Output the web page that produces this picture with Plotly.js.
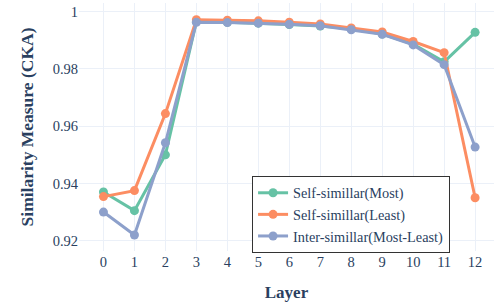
<!DOCTYPE html>
<html><head><meta charset="utf-8">
<script src="https://cdn.plot.ly/plotly-3.0.1.min.js"></script>
<style>html,body{margin:0;padding:0;background:#fff}#c{width:494px;height:306px}</style>
</head><body><div id="c"></div>
<script>
const layers = [0,1,2,3,4,5,6,7,8,9,10,11,12];
const selfMost = [0.9370,0.9305,0.9500,0.9965,0.9963,0.9960,0.9955,0.9950,0.9940,0.9922,0.9887,0.9825,0.9928];
const selfLeast = [0.9354,0.9375,0.9644,0.9972,0.9970,0.9968,0.9963,0.9957,0.9943,0.9929,0.9896,0.9857,0.9350];
const interSim = [0.9300,0.9220,0.9542,0.9963,0.9962,0.9960,0.9956,0.9951,0.9937,0.9921,0.9884,0.9815,0.9527];
const names = ["Self-simillar(Most)","Self-simillar(Least)","Inter-simillar(Most-Least)"];
const colors = ["#66c2a5","#fc8d62","#8da0cb"];
const series = [selfMost, selfLeast, interSim];
const traces = series.map((y,i)=>({x:layers,y:y,name:names[i],type:'scatter',mode:'lines+markers',
  line:{color:colors[i],width:3},marker:{color:colors[i],size:9}}));
const font = "Liberation Serif, Times New Roman, serif";
Plotly.newPlot('c', traces, {
  width:494,height:306,
  margin:{l:79,r:0,t:3,b:55},
  paper_bgcolor:'#fff',plot_bgcolor:'#fff',
  font:{family:font,color:'#2a3f5f',size:14.5},
  xaxis:{range:[-0.79,12.61],tickvals:layers,gridcolor:'#EBF0F8',zeroline:false,showline:false,ticks:'',
    automargin:false,title:{text:'<b>Layer</b>',font:{size:17},standoff:17},tickfont:{size:14.5}},
  yaxis:{range:[0.9164,1.00304],tickvals:[0.92,0.94,0.96,0.98,1],ticktext:['0.92','0.94','0.96','0.98','1'],
    gridcolor:'#EBF0F8',zeroline:false,showline:false,ticks:'',automargin:false,
    title:{text:'<b>Similarity Measure (CKA)</b>',font:{size:17.5},standoff:14},tickfont:{size:14.5}},
  legend:{x:0.417,y:-0.008,xanchor:'left',yanchor:'bottom',bgcolor:'#fff',bordercolor:'#333',borderwidth:1,
    font:{size:14.3},tracegroupgap:0},
  showlegend:true
},{displayModeBar:false,staticPlot:true});
</script></body></html>
